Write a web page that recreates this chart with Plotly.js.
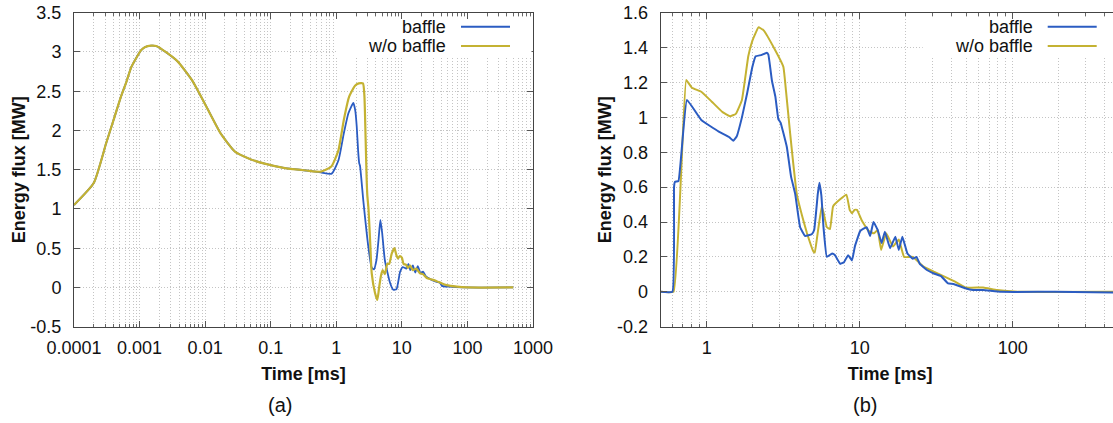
<!DOCTYPE html>
<html>
<head>
<meta charset="utf-8">
<script src="https://cdn.plot.ly/plotly-3.0.1.min.js"></script>
<style>
  html, body { margin: 0; padding: 0; overflow: hidden; background: #fff; }
  #chart { width: 1140px; height: 423px; }
</style>
</head>
<body>
<div id="chart"></div>
<script>
// ---------------- data ----------------
// (a) left panel
const aBaffleT = [0.0001, 0.0002, 0.00031, 0.0004, 0.00052, 0.00063, 0.00075, 0.00105, 0.0012, 0.0015, 0.0018, 0.0025, 0.0038, 0.0063, 0.0105, 0.0173, 0.0285, 0.047, 0.078, 0.165, 0.35,
  0.58, 0.85, 1.08, 1.30, 1.53, 1.82, 1.95, 2.05, 2.15, 2.24, 2.3, 2.58, 3.08, 3.47, 3.75, 4.1, 4.4, 4.7, 5.0, 5.5, 6.6, 7.4, 8.3, 9.4, 10.3, 11.7, 12.6, 13.5, 14.7, 16, 17.5, 19.3, 21, 23.3, 28, 34, 38, 41, 52, 87, 500];
const aBaffleE = [1.05, 1.33, 1.84, 2.13, 2.43, 2.62, 2.81, 3.02, 3.06, 3.08, 3.075, 3.0, 2.88, 2.64, 2.30, 1.96, 1.73, 1.64, 1.58, 1.52, 1.49,
  1.465, 1.45, 1.62, 1.96, 2.22, 2.35, 2.25, 2.05, 1.75, 1.58, 1.55, 1.11, 0.52, 0.25, 0.23, 0.35, 0.6, 0.86, 0.7, 0.35, 0.06, -0.03, -0.02, 0.2, 0.26, 0.24, 0.30, 0.22, 0.28, 0.19, 0.27, 0.18, 0.2, 0.14, 0.1, 0.07, 0.06, 0.02, 0.01, 0.0, 0.0];
const aNoBaffleT = [0.0001, 0.0002, 0.00031, 0.0004, 0.00052, 0.00063, 0.00075, 0.00105, 0.0012, 0.0015, 0.0018, 0.0025, 0.0038, 0.0063, 0.0105, 0.0173, 0.0285, 0.047, 0.078, 0.165, 0.35,
  0.58, 0.84, 1.08, 1.30, 1.57, 1.93, 2.2, 2.55, 2.68, 2.8, 2.9, 2.97, 3.1, 3.3, 3.47, 3.9, 4.23, 4.5, 4.8, 5.1, 5.5, 6.0, 6.4, 7.0, 7.7, 8.2, 8.7, 9.3, 10.0, 10.6, 11.5, 12.4, 13.4, 14.7, 16.5, 18.9, 21, 24, 29, 34, 41, 48, 69, 100, 500];
const aNoBaffleE = [1.05, 1.33, 1.84, 2.13, 2.43, 2.62, 2.81, 3.02, 3.06, 3.08, 3.075, 3.0, 2.88, 2.64, 2.30, 1.96, 1.73, 1.64, 1.58, 1.52, 1.49,
  1.475, 1.54, 1.75, 2.13, 2.43, 2.57, 2.60, 2.60, 2.45, 1.9, 1.4, 1.18, 1.0, 0.55, 0.18, -0.07, -0.16, 0.0, 0.15, 0.22, 0.17, 0.30, 0.30, 0.43, 0.50, 0.42, 0.37, 0.40, 0.38, 0.30, 0.29, 0.25, 0.28, 0.22, 0.24, 0.18, 0.17, 0.12, 0.1, 0.08, 0.05, 0.03, 0.01, 0.0, 0.0];

// (b) right panel
const bBaffleT = [0.5, 0.597, 0.612, 0.62, 0.654, 0.743, 0.922, 1.2, 1.41, 1.49, 1.57, 1.70, 1.84, 1.99, 2.09, 2.27, 2.47, 2.53, 2.67, 2.81, 2.94, 3.04, 3.34, 3.56, 3.79, 4.08, 4.4, 4.86, 5.04, 5.32, 5.45, 5.62, 5.8, 6.1, 6.6, 6.9, 7.45, 7.9, 8.4, 8.9, 9.3, 10.1, 11.1, 11.7, 12.3, 13.1, 13.9, 14.6, 15.8, 17.1, 18, 19, 20.5, 22.2, 23.5, 24.7, 27.5, 30.5, 34, 37.8, 41, 49, 55, 64, 84, 186, 500];
const bBaffleE = [0, 0, 0.6, 0.63, 0.635, 1.10, 0.985, 0.918, 0.885, 0.866, 0.89, 1.0, 1.14, 1.29, 1.35, 1.357, 1.37, 1.36, 1.21, 1.12, 0.99, 0.97, 0.83, 0.66, 0.56, 0.37, 0.32, 0.33, 0.354, 0.56, 0.625, 0.55, 0.37, 0.2, 0.22, 0.21, 0.16, 0.17, 0.21, 0.18, 0.26, 0.35, 0.37, 0.32, 0.40, 0.355, 0.28, 0.345, 0.25, 0.316, 0.24, 0.316, 0.22, 0.19, 0.2, 0.16, 0.125, 0.105, 0.09, 0.048, 0.045, 0.02, 0.01, 0.01, 0.0, 0.0, -0.005];
const bNoBaffleT = [0.5, 0.607, 0.735, 0.80, 0.922, 1.08, 1.27, 1.42, 1.55, 1.70, 1.87, 1.99, 2.18, 2.35, 2.8, 3.17, 3.3, 3.51, 3.66, 3.88, 4.25, 4.51, 4.99, 5.09, 5.31, 5.65, 5.82, 6.1, 6.4, 6.7, 7.45, 8.2, 8.6, 8.9, 9.25, 9.6, 10.3, 11.4, 12.4, 13.1, 13.8, 14.9, 16.5, 18, 19.5, 22.2, 26, 30.5, 35.8, 42, 49, 64, 79, 110, 500];
const bNoBaffleE = [0, 0, 1.214, 1.17, 1.147, 1.09, 1.03, 1.007, 1.02, 1.10, 1.35, 1.44, 1.516, 1.50, 1.386, 1.29, 1.15, 0.91, 0.755, 0.56, 0.42, 0.34, 0.23, 0.225, 0.335, 0.49, 0.45, 0.37, 0.36, 0.49, 0.53, 0.556, 0.47, 0.45, 0.47, 0.47, 0.41, 0.35, 0.335, 0.355, 0.24, 0.335, 0.26, 0.30, 0.2, 0.2, 0.146, 0.115, 0.087, 0.058, 0.025, 0.024, 0.01, 0.0, 0.0];

// tick labels
const aXTickVals = [0.0001, 0.001, 0.01, 0.1, 1, 10, 100, 1000];
const aXTickText = ['0.0001', '0.001', '0.01', '0.1', '1', '10', '100', '1000'];
const aYTickVals = [-0.5, 0, 0.5, 1, 1.5, 2, 2.5, 3, 3.5];
const aYTickText = ['-0.5', '0', '0.5', '1', '1.5', '2', '2.5', '3', '3.5'];
const bXTickVals = [1, 10, 100];
const bXTickText = ['1', '10', '100'];
const bYTickVals = [-0.2, 0, 0.2, 0.4, 0.6, 0.8, 1, 1.2, 1.4, 1.6];
const bYTickText = ['-0.2', '0', '0.2', '0.4', '0.6', '0.8', '1', '1.2', '1.4', '1.6'];

const seriesNames = ['baffle', 'w/o baffle'];
const panelLabels = ['(a)', '(b)'];

// ---------------- styling ----------------
const W = 1140, H = 423;
const FONT = 'Liberation Sans, Arial, Helvetica, sans-serif';
const BLUE = '#2b5cc2';
const OLIVE = '#c4b232';
const GRID = '#c4c4c4';
const px = v => v / W;
const py = v => 1 - v / H;

const yTop = 12.7, yBot = 326.7;
const aL = 74, aR = 533, bL = 660.6, bR = 1119.7;

function xAxis(dom, range, tv, tt, anchor) {
  return {
    type: 'log', domain: [px(dom[0]), px(dom[1])], range: range, anchor: anchor,
    tickmode: 'array', tickvals: tv, ticktext: tt,
    ticks: 'inside', ticklen: 6, tickcolor: '#555', tickwidth: 1,
    showline: true, linecolor: '#444', linewidth: 1, mirror: 'ticks',
    showgrid: true, gridcolor: GRID, griddash: '1px,2px', gridwidth: 1,
    minor: { dtick: 'D1', ticks: 'inside', ticklen: 3, tickcolor: '#666',
             showgrid: true, gridcolor: GRID, griddash: '1px,2px', gridwidth: 1 },
    zeroline: false,
    tickfont: { family: FONT, size: 18, color: '#111' },
    ticklabelstandoff: 5,
    title: { text: 'Time [ms]', font: { family: FONT, size: 18, color: '#111', weight: 'bold' }, standoff: 10 }
  };
}
function yAxis(range, tv, tt, anchor) {
  return {
    domain: [py(yBot), py(yTop)], range: range, anchor: anchor,
    tickmode: 'array', tickvals: tv, ticktext: tt,
    ticks: 'inside', ticklen: 6, tickcolor: '#555', tickwidth: 1,
    showline: true, linecolor: '#444', linewidth: 1, mirror: 'ticks',
    showgrid: true, gridcolor: GRID, griddash: '1px,2px', gridwidth: 1,
    zeroline: false,
    tickfont: { family: FONT, size: 18, color: '#111' },
    ticklabelstandoff: 8,
    title: { text: 'Energy flux [MW]', font: { family: FONT, size: 18, color: '#111', weight: 'bold' }, standoff: 0 }
  };
}

const LS = 'spline';
const traces = [
  { x: aBaffleT, y: aBaffleE, xaxis: 'x', yaxis: 'y', mode: 'lines', name: seriesNames[0], line: { color: BLUE, width: 1.8, shape: LS, smoothing: 0.5 }, showlegend: false },
  { x: aNoBaffleT, y: aNoBaffleE, xaxis: 'x', yaxis: 'y', mode: 'lines', name: seriesNames[1], line: { color: OLIVE, width: 2.2, shape: LS, smoothing: 0.5 }, showlegend: false },
  { x: bNoBaffleT, y: bNoBaffleE, xaxis: 'x2', yaxis: 'y2', mode: 'lines', name: seriesNames[1], line: { color: OLIVE, width: 2, shape: LS, smoothing: 0.3 }, showlegend: false },
  { x: bBaffleT, y: bBaffleE, xaxis: 'x2', yaxis: 'y2', mode: 'lines', name: seriesNames[0], line: { color: BLUE, width: 2, shape: LS, smoothing: 0.3 }, showlegend: false }
];

const shapes = [];
const annotations = [];
[aR, bR].forEach((right) => {
  shapes.push({ type: 'rect', xref: 'paper', yref: 'paper', layer: 'above',
    x0: px(right - 197), x1: px(right - 1.5), y0: py(56), y1: py(19),
    fillcolor: '#ffffff', line: { width: 0 } });
  [[26.7, BLUE, seriesNames[0]], [46, OLIVE, seriesNames[1]]].forEach(([yy, col, name]) => {
    shapes.push({ type: 'line', xref: 'paper', yref: 'paper', layer: 'above',
      x0: px(right - 72), x1: px(right - 23), y0: py(yy), y1: py(yy),
      line: { color: col, width: 2 } });
    annotations.push({ xref: 'paper', yref: 'paper', x: px(right - 85), y: py(yy),
      xanchor: 'right', yanchor: 'middle', showarrow: false, text: name,
      font: { family: FONT, size: 18, color: '#111' } });
  });
});
annotations.push({ xref: 'paper', yref: 'paper', x: px(280), y: py(405), xanchor: 'center', yanchor: 'middle',
  showarrow: false, text: panelLabels[0], font: { family: FONT, size: 20, color: '#111' } });
annotations.push({ xref: 'paper', yref: 'paper', x: px(865), y: py(405), xanchor: 'center', yanchor: 'middle',
  showarrow: false, text: panelLabels[1], font: { family: FONT, size: 20, color: '#111' } });

const layout = {
  width: W, height: H,
  margin: { l: 0, r: 0, t: 0, b: 0 },
  paper_bgcolor: '#fff', plot_bgcolor: '#fff',
  showlegend: false,
  xaxis: xAxis([aL, aR], [-4, 3], aXTickVals, aXTickText, 'y'),
  yaxis: yAxis([-0.5, 3.5], aYTickVals, aYTickText, 'x'),
  xaxis2: xAxis([bL, bR], [Math.log10(0.5), Math.log10(500)], bXTickVals, bXTickText, 'y2'),
  yaxis2: yAxis([-0.2, 1.6], bYTickVals, bYTickText, 'x2'),
  shapes: shapes,
  annotations: annotations
};

Plotly.newPlot('chart', traces, layout, { staticPlot: true, displayModeBar: false });
</script>
</body>
</html>
